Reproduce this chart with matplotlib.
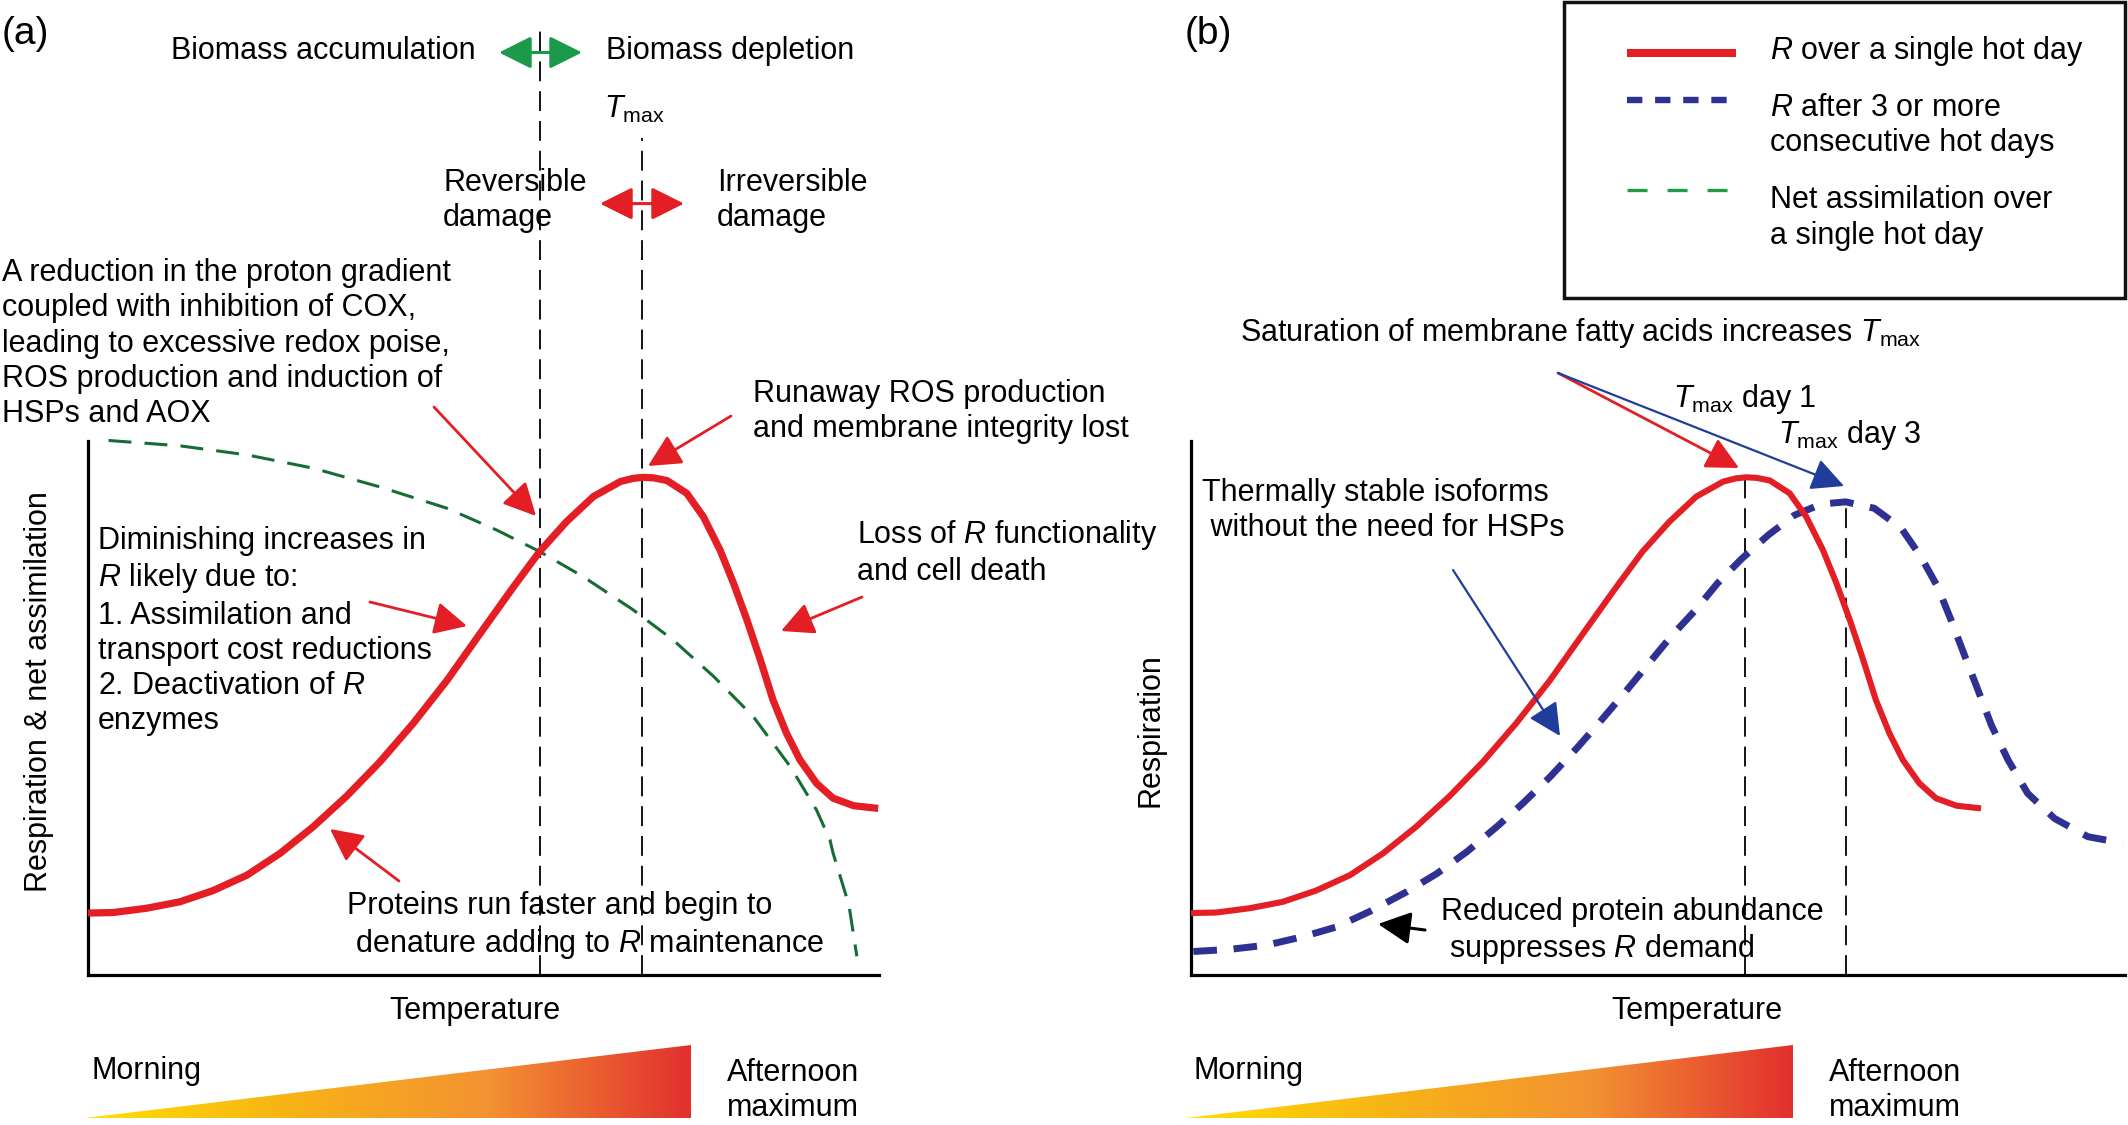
import numpy as np
import matplotlib.pyplot as plt
from matplotlib.patches import Polygon, Rectangle
from matplotlib.colors import LinearSegmentedColormap

plt.rcParams['font.family'] = ['Liberation Sans', 'DejaVu Sans']
plt.rcParams['mathtext.fontset'] = 'custom'
plt.rcParams['mathtext.rm'] = 'Liberation Sans'
plt.rcParams['mathtext.it'] = 'Liberation Sans:italic'

# R over a single hot day (temperature, respiration in arbitrary units)
temp_r = [0, 3.2, 7.4, 11.6, 15.8, 20.1, 24.3, 28.5, 32.7, 36.9, 41.1, 45.4, 49.6, 53.8,
          57.1, 60.5, 63.9, 67.3, 68.9, 70.2, 71.5, 73.2, 75.7, 77.8, 79.9, 81.6, 83.3, 85.0,
          86.6, 88.3, 90.0, 92.1, 94.2, 96.8, 99.9]
resp_r = [11.6, 11.7, 12.5, 13.7, 15.8, 18.7, 22.8, 27.8, 33.5, 39.9, 47.1, 55.2, 64.0, 72.7,
          79.3, 84.9, 89.6, 92.4, 93.0, 93.2, 93.1, 92.6, 90.2, 85.8, 79.6, 73.4, 66.5, 59.0,
          51.5, 45.3, 40.3, 35.9, 33.1, 31.7, 31.2]

# net assimilation over a single hot day
temp_a = [2.6, 11.6, 20.1, 28.5, 36.9, 45.4, 51.7, 57.1, 62.6, 68.9, 74.0, 79.1, 84.1, 88.8,
          92.1, 93.8, 94.2, 96.2, 97.2]
assim = [100.1, 99.1, 97.4, 94.9, 91.4, 87.4, 83.3, 79.3, 74.6, 68.4, 62.7, 55.9, 48.4, 39.0,
         30.9, 25.3, 22.8, 13.1, 3.5]

# R after 3 or more consecutive hot days
temp_b = [0.3, 4.9, 9.6, 14.2, 18.4, 22.6, 27.3, 31.1, 34.9, 38.7, 42.0, 45.4, 48.8, 51.7,
          54.8, 57.8, 60.7, 63.7, 66.6, 69.6, 73.0, 76.3, 79.7, 82.8, 86.4, 89.8, 92.3, 94.4,
          96.1, 97.8, 99.5, 101.2, 103.3, 105.8, 109.2, 113.4, 117.8]
resp_b = [4.4, 4.8, 5.6, 7.2, 9.0, 11.9, 15.6, 19.0, 23.1, 27.8, 32.2, 37.1, 42.5, 47.4,
          52.8, 58.2, 63.4, 68.2, 73.4, 77.9, 82.4, 86.1, 88.2, 88.6, 87.4, 83.7, 78.3, 72.7,
          66.5, 59.9, 53.4, 46.8, 40.3, 34.0, 29.3, 25.9, 24.7]

t_cross = 57.2      # R meets net assimilation
t_max1 = 70.1       # Tmax day 1
t_max3 = 82.8       # Tmax day 3

RED = '#e31e24'
NAVY = '#2e3192'
BLUE = '#1f3d99'
DGREEN = '#176b35'
GREEN = '#1e9c48'
FS = 22
LS = 37.3   # line step of the labels, in pixels

fig = plt.figure(figsize=(21.28, 11.25), dpi=100)
W, H = 2128, 1125


def box(x0, y0, x1, y1):
    return [x0 / W, 1 - y1 / H, (x1 - x0) / W, (y1 - y0) / H]


axa = fig.add_axes(box(88, 441, 879, 975))
axb = fig.add_axes(box(1191, 441, 2125, 975))
for ax in (axa, axb):
    ax.set_ylim(0, 100)
    ax.spines[['top', 'right']].set_visible(False)
    ax.spines[['left', 'bottom']].set_linewidth(2.3)
    ax.set_xticks([])
    ax.set_yticks([])
    ax.patch.set_alpha(0)
axa.set_xlim(0, 100)
axb.set_xlim(0, 118.1)

# panel a
axa.plot([t_cross, t_cross], [0, 177.5], color='k', lw=1.3, dashes=(11, 5.5), clip_on=False, zorder=1)
axa.plot([t_max1, t_max1], [0, 156.8], color='k', lw=1.3, dashes=(11, 5.5), clip_on=False, zorder=1)
axa.plot(temp_a, assim, color=DGREEN, lw=2.2, dashes=(7.5, 4.3), clip_on=False, zorder=2)
axa.plot(temp_r, resp_r, color=RED, lw=5.2, solid_capstyle='butt', solid_joinstyle='round',
         clip_on=False, zorder=3)

# panel b
axb.plot([t_max1, t_max1], [0, 93.1], color='k', lw=1.3, dashes=(11, 5.5), zorder=1)
axb.plot([t_max3, t_max3], [0, 88.6], color='k', lw=1.3, dashes=(11, 5.5), zorder=1)
axb.plot(temp_b, resp_b, color=NAVY, lw=5, dashes=(3.4, 2.4), clip_on=False, zorder=2)
axb.plot(temp_r, resp_r, color=RED, lw=4.4, solid_capstyle='butt', solid_joinstyle='round', zorder=3)

# overlay in pixel units for labels and arrows
ov = fig.add_axes([0, 0, 1, 1], zorder=5)
ov.axis('off')

cmap = LinearSegmentedColormap.from_list('heat', ['#ffe000', '#f8b316', '#f39232', '#e2302e'])
grad = np.linspace(0, 1, 256).reshape(1, -1)
for x0, x1 in [(85, 690.6), (1186, 1793)]:
    im = ov.imshow(grad, cmap=cmap, extent=[x0, x1, 1118, 1044.7], aspect='auto', zorder=1)
    tri = Polygon([[x0, 1118], [x1, 1118], [x1, 1044.7]], closed=True,
                  facecolor='none', edgecolor='none', transform=ov.transData)
    ov.add_patch(tri)
    im.set_clip_path(tri)
ov.set_xlim(0, W)
ov.set_ylim(H, 0)


def txt(x, y, s, **kw):
    # y is the baseline of the first line
    kw.setdefault('ha', 'left')
    if 'va' not in kw:
        kw['va'] = 'baseline'
        y = y + s.count('\n') * LS
    ov.text(x, y, s, fontsize=kw.pop('fs', FS), linespacing=1.23, **kw)


def arrow(p0, p1, color, lw=2.0, style='-|>', ms=20, hl=1.0, hw=0.5):
    ov.annotate('', xy=p1, xytext=p0,
                arrowprops=dict(arrowstyle=f'{style},head_length={hl},head_width={hw}',
                                color=color, lw=lw, mutation_scale=ms,
                                shrinkA=0, shrinkB=0))


# panel a labels
txt(2, 44, '(a)', fs=28)
txt(171, 59, 'Biomass accumulation')
txt(606, 59, 'Biomass depletion')
txt(604, 118, r'$T_{\mathrm{max}}$')
txt(443, 189, 'Reversible\ndamage')
txt(717, 189, 'Irreversible\ndamage')
txt(2, 273, 'A reduction in the proton gradient\ncoupled with inhibition of COX,\n'
            'leading to excessive redox poise,\nROS production and induction of\nHSPs and AOX')
txt(753, 400, 'Runaway ROS production\nand membrane integrity lost')
txt(98, 543, 'Diminishing increases in\n$R$ likely due to:\n1. Assimilation and\n'
             'transport cost reductions\n2. Deactivation of $R$\nenzymes')
txt(857, 543, 'Loss of $R$ functionality\nand cell death')
txt(347, 914.5, 'Proteins run faster and begin to\n denature adding to $R$ maintenance')
txt(475, 1019.5, 'Temperature', ha='center')
txt(39, 692, 'Respiration & net assimilation', ha='center', va='center', rotation=90)
txt(92, 1079, 'Morning')
txt(727, 1079, 'Afternoon\nmaximum')

arrow((499, 52.5), (582, 52.5), '#1a9a4a', lw=2.2, style='<|-|>')
arrow((600, 203.6), (684, 203.6), RED, lw=2.2, style='<|-|>')
arrow((434, 407), (536, 516), RED)
arrow((731, 416), (648, 466), RED)
arrow((370, 602), (467, 626), RED)
arrow((862, 597), (781, 631), RED)
arrow((399, 881), (330, 829), RED)

# panel b labels
txt(1185, 44, '(b)', fs=28)
ov.add_patch(Rectangle((1564, 2), 561, 295.5, fill=False, edgecolor='#111111', lw=2.5, clip_on=False))
ov.plot([1627, 1736], [52.5, 52.5], color=RED, lw=5.8, solid_capstyle='butt')
ov.plot([1627, 1736], [100, 100], color=NAVY, lw=4.6, dashes=(2.4, 2.0))
ov.plot([1627, 1736], [190, 190], color=GREEN, lw=2.4, dashes=(6, 6))
txt(1770, 59, '$R$ over a single hot day')
txt(1770, 114, '$R$ after 3 or more\nconsecutive hot days')
txt(1770, 206.4, 'Net assimilation over\na single hot day')
txt(1240, 341, r'Saturation of membrane fatty acids increases $T_{\mathrm{max}}$')
txt(1673, 407, r'$T_{\mathrm{max}}$ day 1')
txt(1778, 443, r'$T_{\mathrm{max}}$ day 3')
txt(1202, 499, 'Thermally stable isoforms\n without the need for HSPs')
txt(1441, 920, 'Reduced protein abundance\n suppresses $R$ demand')
txt(1697, 1019.5, 'Temperature', ha='center')
txt(1150, 730, 'Respiration', ha='center', va='center', rotation=90)
txt(1194, 1079, 'Morning')
txt(1829, 1079, 'Afternoon\nmaximum')

arrow((1558, 373), (1739, 468), RED)
arrow((1558, 373), (1844, 486), BLUE, lw=1.6)
arrow((1453, 570), (1560, 736), BLUE, lw=1.6)
arrow((1425, 930), (1378, 924), 'k', lw=2.2)

fig.savefig('out.png', dpi=100)
